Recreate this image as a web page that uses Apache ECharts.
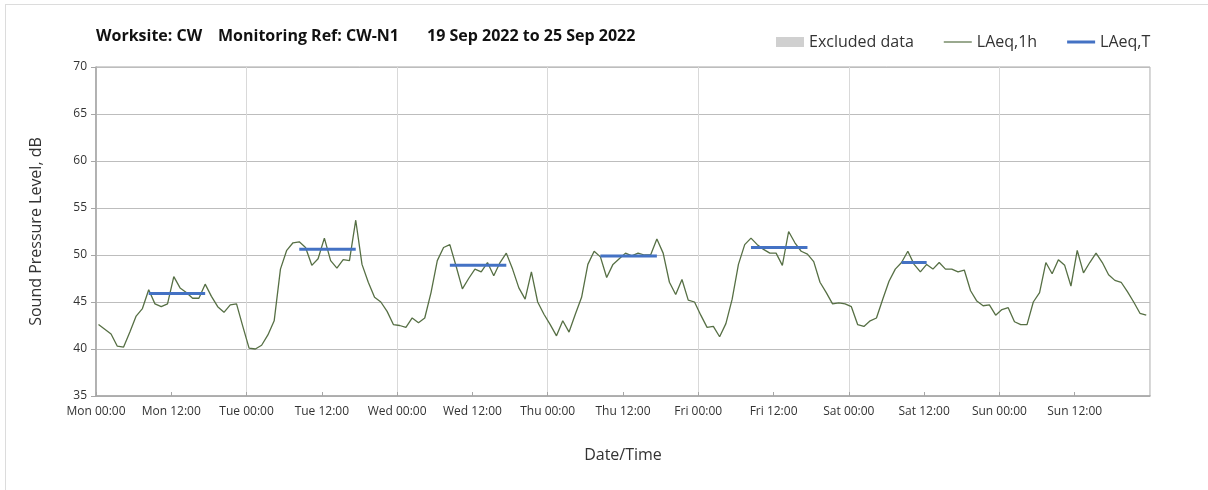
<!DOCTYPE html>
<html>
<head>
<meta charset="utf-8">
<script src="https://cdn.jsdelivr.net/npm/echarts@6/dist/echarts.min.js"></script>
<style>
  html, body { margin: 0; padding: 0; background: #fff; overflow: hidden; }
  #frame { position: absolute; left: 5px; top: 4px; width: 1300px; height: 600px; border: 1px solid #dcdcdc; }
  #chart { position: absolute; left: 0; top: 0; width: 1208px; height: 490px; }
</style>
</head>
<body>
<div id="frame"></div>
<div id="chart"></div>
<script>
// ----------------------
// Dados
// ----------------------
const DAYS = ['Mon', 'Tue', 'Wed', 'Thu', 'Fri', 'Sat', 'Sun'];
const Y_TICKS = [35, 40, 45, 50, 55, 60, 65, 70];

// LAeq,1h - um valor por hora, Mon 00:00 .. Sun 23:00
const LAEQ_1H = [
  42.6, 42.1, 41.6, 40.3, 40.2, 41.8, 43.5, 44.3, 46.3, 44.8, 44.5, 44.8,
  47.7, 46.5, 46.0, 45.4, 45.4, 46.9, 45.6, 44.5, 43.9, 44.7, 44.8, 42.4,
  40.1, 40.0, 40.4, 41.5, 43.0, 48.5, 50.5, 51.3, 51.4, 50.8, 48.9, 49.6,
  51.8, 49.4, 48.6, 49.5, 49.4, 53.7, 49.0, 47.1, 45.5, 45.0, 44.0, 42.6,
  42.5, 42.3, 43.3, 42.8, 43.3, 46.0, 49.4, 50.8, 51.1, 48.8, 46.4, 47.5,
  48.5, 48.2, 49.2, 47.8, 49.2, 50.2, 48.5, 46.5, 45.3, 48.2, 45.0, 43.7,
  42.6, 41.4, 43.0, 41.8, 43.7, 45.5, 49.0, 50.4, 49.8, 47.6, 49.0, 49.6,
  50.2, 49.9, 50.2, 50.0, 50.0, 51.7, 50.2, 47.1, 45.8, 47.4, 45.2, 45.0,
  43.6, 42.3, 42.4, 41.3, 42.7, 45.3, 49.0, 51.1, 51.8, 51.1, 50.6, 50.2,
  50.2, 48.9, 52.5, 51.3, 50.4, 50.1, 49.3, 47.1, 46.0, 44.8, 44.9, 44.8,
  44.5, 42.6, 42.4, 43.0, 43.3, 45.3, 47.2, 48.5, 49.2, 50.4, 49.0, 48.2,
  49.0, 48.5, 49.2, 48.5, 48.5, 48.2, 48.4, 46.2, 45.1, 44.6, 44.7, 43.6,
  44.2, 44.4, 42.9, 42.6, 42.6, 45.0, 46.0, 49.2, 48.0, 49.5, 48.9, 46.7,
  50.5, 48.1, 49.2, 50.2, 49.2, 47.9, 47.3, 47.1, 46.1, 45.0, 43.8, 43.6
];

// LAeq,T - período diurno (índice de hora inicial / final)
const T_START = [8, 32, 56, 80, 104, 128];
const T_END = [17, 41, 65, 89, 113, 132];
const LAEQ_T = [45.9, 50.6, 48.9, 49.9, 50.8, 49.2];

const HOUR_OFFSET = 0.4;   // pontos desenhados um pouco depois da hora cheia

const COLOR_GREEN = '#566f44';
const COLOR_BLUE = '#4472c4';
const COLOR_GREY = '#d0d0d0';
const COLOR_TEXT = '#333';
const FONT = '"Open Sans", "Liberation Sans", sans-serif';

// ----------------------
// Gráfico
// ----------------------
function initChart() {
  const chart = echarts.init(document.getElementById('chart'));

  const series = [
    { name: 'Excluded data', type: 'bar', data: [], itemStyle: { color: COLOR_GREY } },
    {
      name: 'LAeq,1h',
      type: 'line',
      symbol: 'none',
      data: LAEQ_1H.map((v, i) => [i + HOUR_OFFSET, v]),
      lineStyle: { color: COLOR_GREEN, width: 1.3 },
      itemStyle: { color: COLOR_GREEN },
      z: 3
    }
  ];
  LAEQ_T.forEach((v, k) => {
    series.push({
      name: 'LAeq,T',
      type: 'line',
      symbol: 'none',
      data: [[T_START[k] + HOUR_OFFSET, v], [T_END[k] + HOUR_OFFSET, v]],
      lineStyle: { color: COLOR_BLUE, width: 3 },
      itemStyle: { color: COLOR_BLUE },
      z: 4
    });
  });

  const titleStyle = { fontSize: 16, fontWeight: 'bold', color: '#111', fontFamily: FONT };

  chart.setOption({
    animation: false,
    textStyle: { fontFamily: FONT },
    title: [
      { text: 'Worksite: CW', left: 96, top: 28, padding: 0, textStyle: titleStyle },
      { text: 'Monitoring Ref: CW-N1', left: 218, top: 28, padding: 0, textStyle: titleStyle },
      { text: '19 Sep 2022 to 25 Sep 2022', left: 427, top: 28, padding: 0, textStyle: titleStyle }
    ],
    legend: {
      left: 771,
      top: 29,
      itemWidth: 28,
      itemHeight: 10,
      itemGap: 30,
      textStyle: { fontSize: 16, color: COLOR_TEXT, fontFamily: FONT },
      data: [
        { name: 'Excluded data', icon: 'rect' },
        { name: 'LAeq,1h', icon: 'path://M0,0 H28 V1.2 H0 Z' },
        { name: 'LAeq,T', icon: 'path://M0,0 H28 V3 H0 Z' }
      ]
    },
    grid: {
      left: 96, right: 58, top: 67, bottom: 94,
      show: true, borderColor: '#a6a6a6', borderWidth: 1
    },
    xAxis: [
      {
        type: 'value',
        min: 0,
        max: 168,
        interval: 12,
        name: 'Date/Time',
        nameLocation: 'middle',
        nameGap: 51,
        nameTextStyle: { fontSize: 16, color: COLOR_TEXT },
        axisLine: { show: true, lineStyle: { color: '#a6a6a6', width: 1.5 } },
        axisTick: { show: true, inside: true, length: 4, lineStyle: { color: '#a6a6a6' } },
        axisLabel: {
          color: COLOR_TEXT,
          fontSize: 12,
          margin: 10,
          showMaxLabel: false,
          formatter: v => v >= 168 ? '' : DAYS[Math.floor(v / 24)] + (v % 24 === 0 ? ' 00:00' : ' 12:00')
        },
        splitLine: { show: false }
      },
      {
        // linhas verticais diárias
        type: 'value',
        min: 0,
        max: 168,
        interval: 24,
        position: 'bottom',
        axisLine: { show: false },
        axisTick: { show: false },
        axisLabel: { show: false },
        splitLine: { show: true, lineStyle: { color: '#d9d9d9', width: 1 } }
      }
    ],
    yAxis: {
      type: 'value',
      min: Y_TICKS[0],
      max: Y_TICKS[Y_TICKS.length - 1],
      interval: 5,
      name: 'Sound Pressure Level, dB',
      nameLocation: 'middle',
      nameGap: 52,
      nameTextStyle: { fontSize: 16, color: COLOR_TEXT },
      axisLine: { show: true, lineStyle: { color: '#a6a6a6', width: 1.5 } },
      axisTick: { show: true, length: 5, lineStyle: { color: '#a6a6a6' } },
      axisLabel: { color: COLOR_TEXT, fontSize: 12, margin: 9 },
      splitLine: { show: true, lineStyle: { color: '#bdbdbd', width: 1.2 } }
    },
    series: series
  });
  return chart;
}

const mainChart = initChart();
window.addEventListener('resize', () => mainChart.resize());
</script>
</body>
</html>
